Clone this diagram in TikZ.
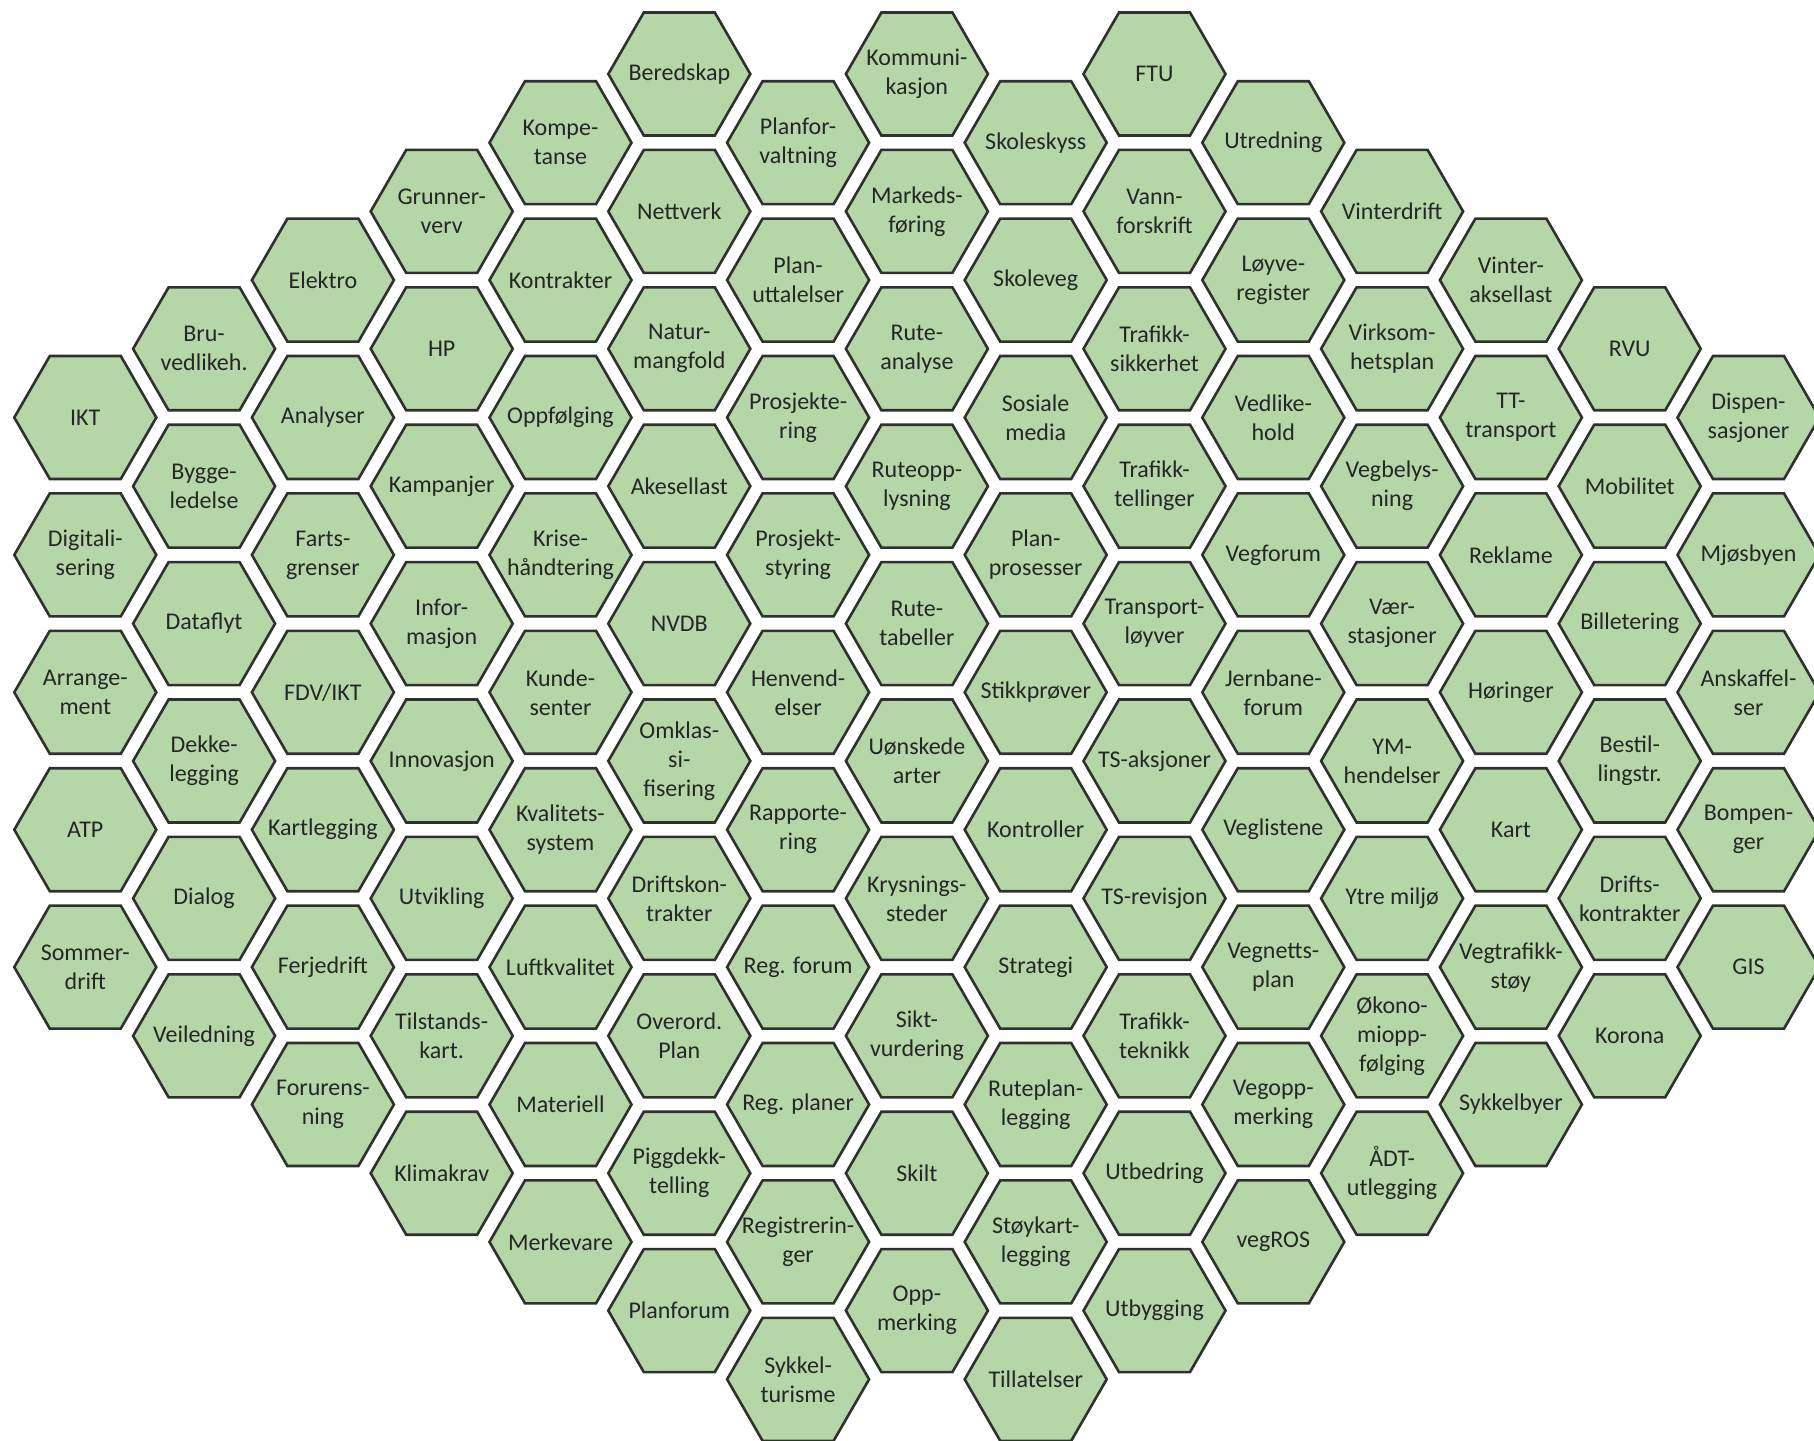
\documentclass[tikz,border=0pt]{standalone}
\usepackage{fontspec}
\setmainfont{Carlito}
\definecolor{hexfill}{RGB}{181,215,168}
\definecolor{hexline}{RGB}{48,48,48}
\definecolor{hextext}{RGB}{38,38,38}
\tikzset{
  hexshape/.style={draw=hexline, fill=hexfill, line width=2.6pt, line join=miter},
  hexlabel/.style={inner sep=0pt, text=hextext, align=center,
    font=\fontsize{24}{29}\selectfont}
}
\newcommand{\hx}[3]{%
  \coordinate (p-#1-#2) at ({85.3+(#1-1)*118.8},{74+#2*68.7});
  \draw[hexshape] (p-#1-#2) +(0:71) -- +(60:71) -- +(120:71) -- +(180:71) -- +(240:71) -- +(300:71) -- cycle;
  \node[hexlabel] (h-#1-#2) at (p-#1-#2) {#3};}
\begin{document}
\begin{tikzpicture}[x=1pt,y=-1pt]
\useasboundingbox (0,0) rectangle (1814,1440);
% column 1
\hx{1}{5}{IKT}
\hx{1}{7}{Digitali-\\sering}
\hx{1}{9}{Arrange-\\ment}
\hx{1}{11}{ATP}
\hx{1}{13}{Sommer-\\drift}
% column 2
\hx{2}{4}{Bru-\\vedlikeh.}
\hx{2}{6}{Bygge-\\ledelse}
\hx{2}{8}{Dataflyt}
\hx{2}{10}{Dekke-\\legging}
\hx{2}{12}{Dialog}
\hx{2}{14}{Veiledning}
% column 3
\hx{3}{3}{Elektro}
\hx{3}{5}{Analyser}
\hx{3}{7}{Farts-\\grenser}
\hx{3}{9}{FDV/IKT}
\hx{3}{11}{Kartlegging}
\hx{3}{13}{Ferjedrift}
\hx{3}{15}{Forurens-\\ning}
% column 4
\hx{4}{2}{Grunner-\\verv}
\hx{4}{4}{HP}
\hx{4}{6}{Kampanjer}
\hx{4}{8}{Infor-\\masjon}
\hx{4}{10}{Innovasjon}
\hx{4}{12}{Utvikling}
\hx{4}{14}{Tilstands-\\kart.}
\hx{4}{16}{Klimakrav}
% column 5
\hx{5}{1}{Kompe-\\tanse}
\hx{5}{3}{Kontrakter}
\hx{5}{5}{Oppfølging}
\hx{5}{7}{Krise-\\håndtering}
\hx{5}{9}{Kunde-\\senter}
\hx{5}{11}{Kvalitets-\\system}
\hx{5}{13}{Luftkvalitet}
\hx{5}{15}{Materiell}
\hx{5}{17}{Merkevare}
% column 6
\hx{6}{0}{Beredskap}
\hx{6}{2}{Nettverk}
\hx{6}{4}{Natur-\\mangfold}
\hx{6}{6}{Akesellast}
\hx{6}{8}{NVDB}
\hx{6}{10}{Omklas-\\si-\\fisering}
\hx{6}{12}{Driftskon-\\trakter}
\hx{6}{14}{Overord.\\Plan}
\hx{6}{16}{Piggdekk-\\telling}
\hx{6}{18}{Planforum}
% column 7
\hx{7}{1}{Planfor-\\valtning}
\hx{7}{3}{Plan-\\uttalelser}
\hx{7}{5}{Prosjekte-\\ring}
\hx{7}{7}{Prosjekt-\\styring}
\hx{7}{9}{Henvend-\\elser}
\hx{7}{11}{Rapporte-\\ring}
\hx{7}{13}{Reg. forum}
\hx{7}{15}{Reg. planer}
\hx{7}{17}{Registrerin-\\ger}
\hx{7}{19}{Sykkel-\\turisme}
% column 8
\hx{8}{0}{Kommuni-\\kasjon}
\hx{8}{2}{Markeds-\\føring}
\hx{8}{4}{Rute-\\analyse}
\hx{8}{6}{Ruteopp-\\lysning}
\hx{8}{8}{Rute-\\tabeller}
\hx{8}{10}{Uønskede\\arter}
\hx{8}{12}{Krysnings-\\steder}
\hx{8}{14}{Sikt-\\vurdering}
\hx{8}{16}{Skilt}
\hx{8}{18}{Opp-\\merking}
% column 9
\hx{9}{1}{Skoleskyss}
\hx{9}{3}{Skoleveg}
\hx{9}{5}{Sosiale\\media}
\hx{9}{7}{Plan-\\prosesser}
\hx{9}{9}{Stikkprøver}
\hx{9}{11}{Kontroller}
\hx{9}{13}{Strategi}
\hx{9}{15}{Ruteplan-\\legging}
\hx{9}{17}{Støykart-\\legging}
\hx{9}{19}{Tillatelser}
% column 10
\hx{10}{0}{FTU}
\hx{10}{2}{Vann-\\forskrift}
\hx{10}{4}{Trafikk-\\sikkerhet}
\hx{10}{6}{Trafikk-\\tellinger}
\hx{10}{8}{Transport-\\løyver}
\hx{10}{10}{TS-aksjoner}
\hx{10}{12}{TS-revisjon}
\hx{10}{14}{Trafikk-\\teknikk}
\hx{10}{16}{Utbedring}
\hx{10}{18}{Utbygging}
% column 11
\hx{11}{1}{Utredning}
\hx{11}{3}{Løyve-\\register}
\hx{11}{5}{Vedlike-\\hold}
\hx{11}{7}{Vegforum}
\hx{11}{9}{Jernbane-\\forum}
\hx{11}{11}{Veglistene}
\hx{11}{13}{Vegnetts-\\plan}
\hx{11}{15}{Vegopp-\\merking}
\hx{11}{17}{vegROS}
% column 12
\hx{12}{2}{Vinterdrift}
\hx{12}{4}{Virksom-\\hetsplan}
\hx{12}{6}{Vegbelys-\\ning}
\hx{12}{8}{Vær-\\stasjoner}
\hx{12}{10}{YM-\\hendelser}
\hx{12}{12}{Ytre miljø}
\hx{12}{14}{Økono-\\miopp-\\følging}
\hx{12}{16}{ÅDT-\\utlegging}
% column 13
\hx{13}{3}{Vinter-\\aksellast}
\hx{13}{5}{TT-\\transport}
\hx{13}{7}{Reklame}
\hx{13}{9}{Høringer}
\hx{13}{11}{Kart}
\hx{13}{13}{Vegtrafikk-\\støy}
\hx{13}{15}{Sykkelbyer}
% column 14
\hx{14}{4}{RVU}
\hx{14}{6}{Mobilitet}
\hx{14}{8}{Billetering}
\hx{14}{10}{Bestil-\\lingstr.}
\hx{14}{12}{Drifts-\\kontrakter}
\hx{14}{14}{Korona}
% column 15
\hx{15}{5}{Dispen-\\sasjoner}
\hx{15}{7}{Mjøsbyen}
\hx{15}{9}{Anskaffel-\\ser}
\hx{15}{11}{Bompen-\\ger}
\hx{15}{13}{GIS}
\end{tikzpicture}
\end{document}
